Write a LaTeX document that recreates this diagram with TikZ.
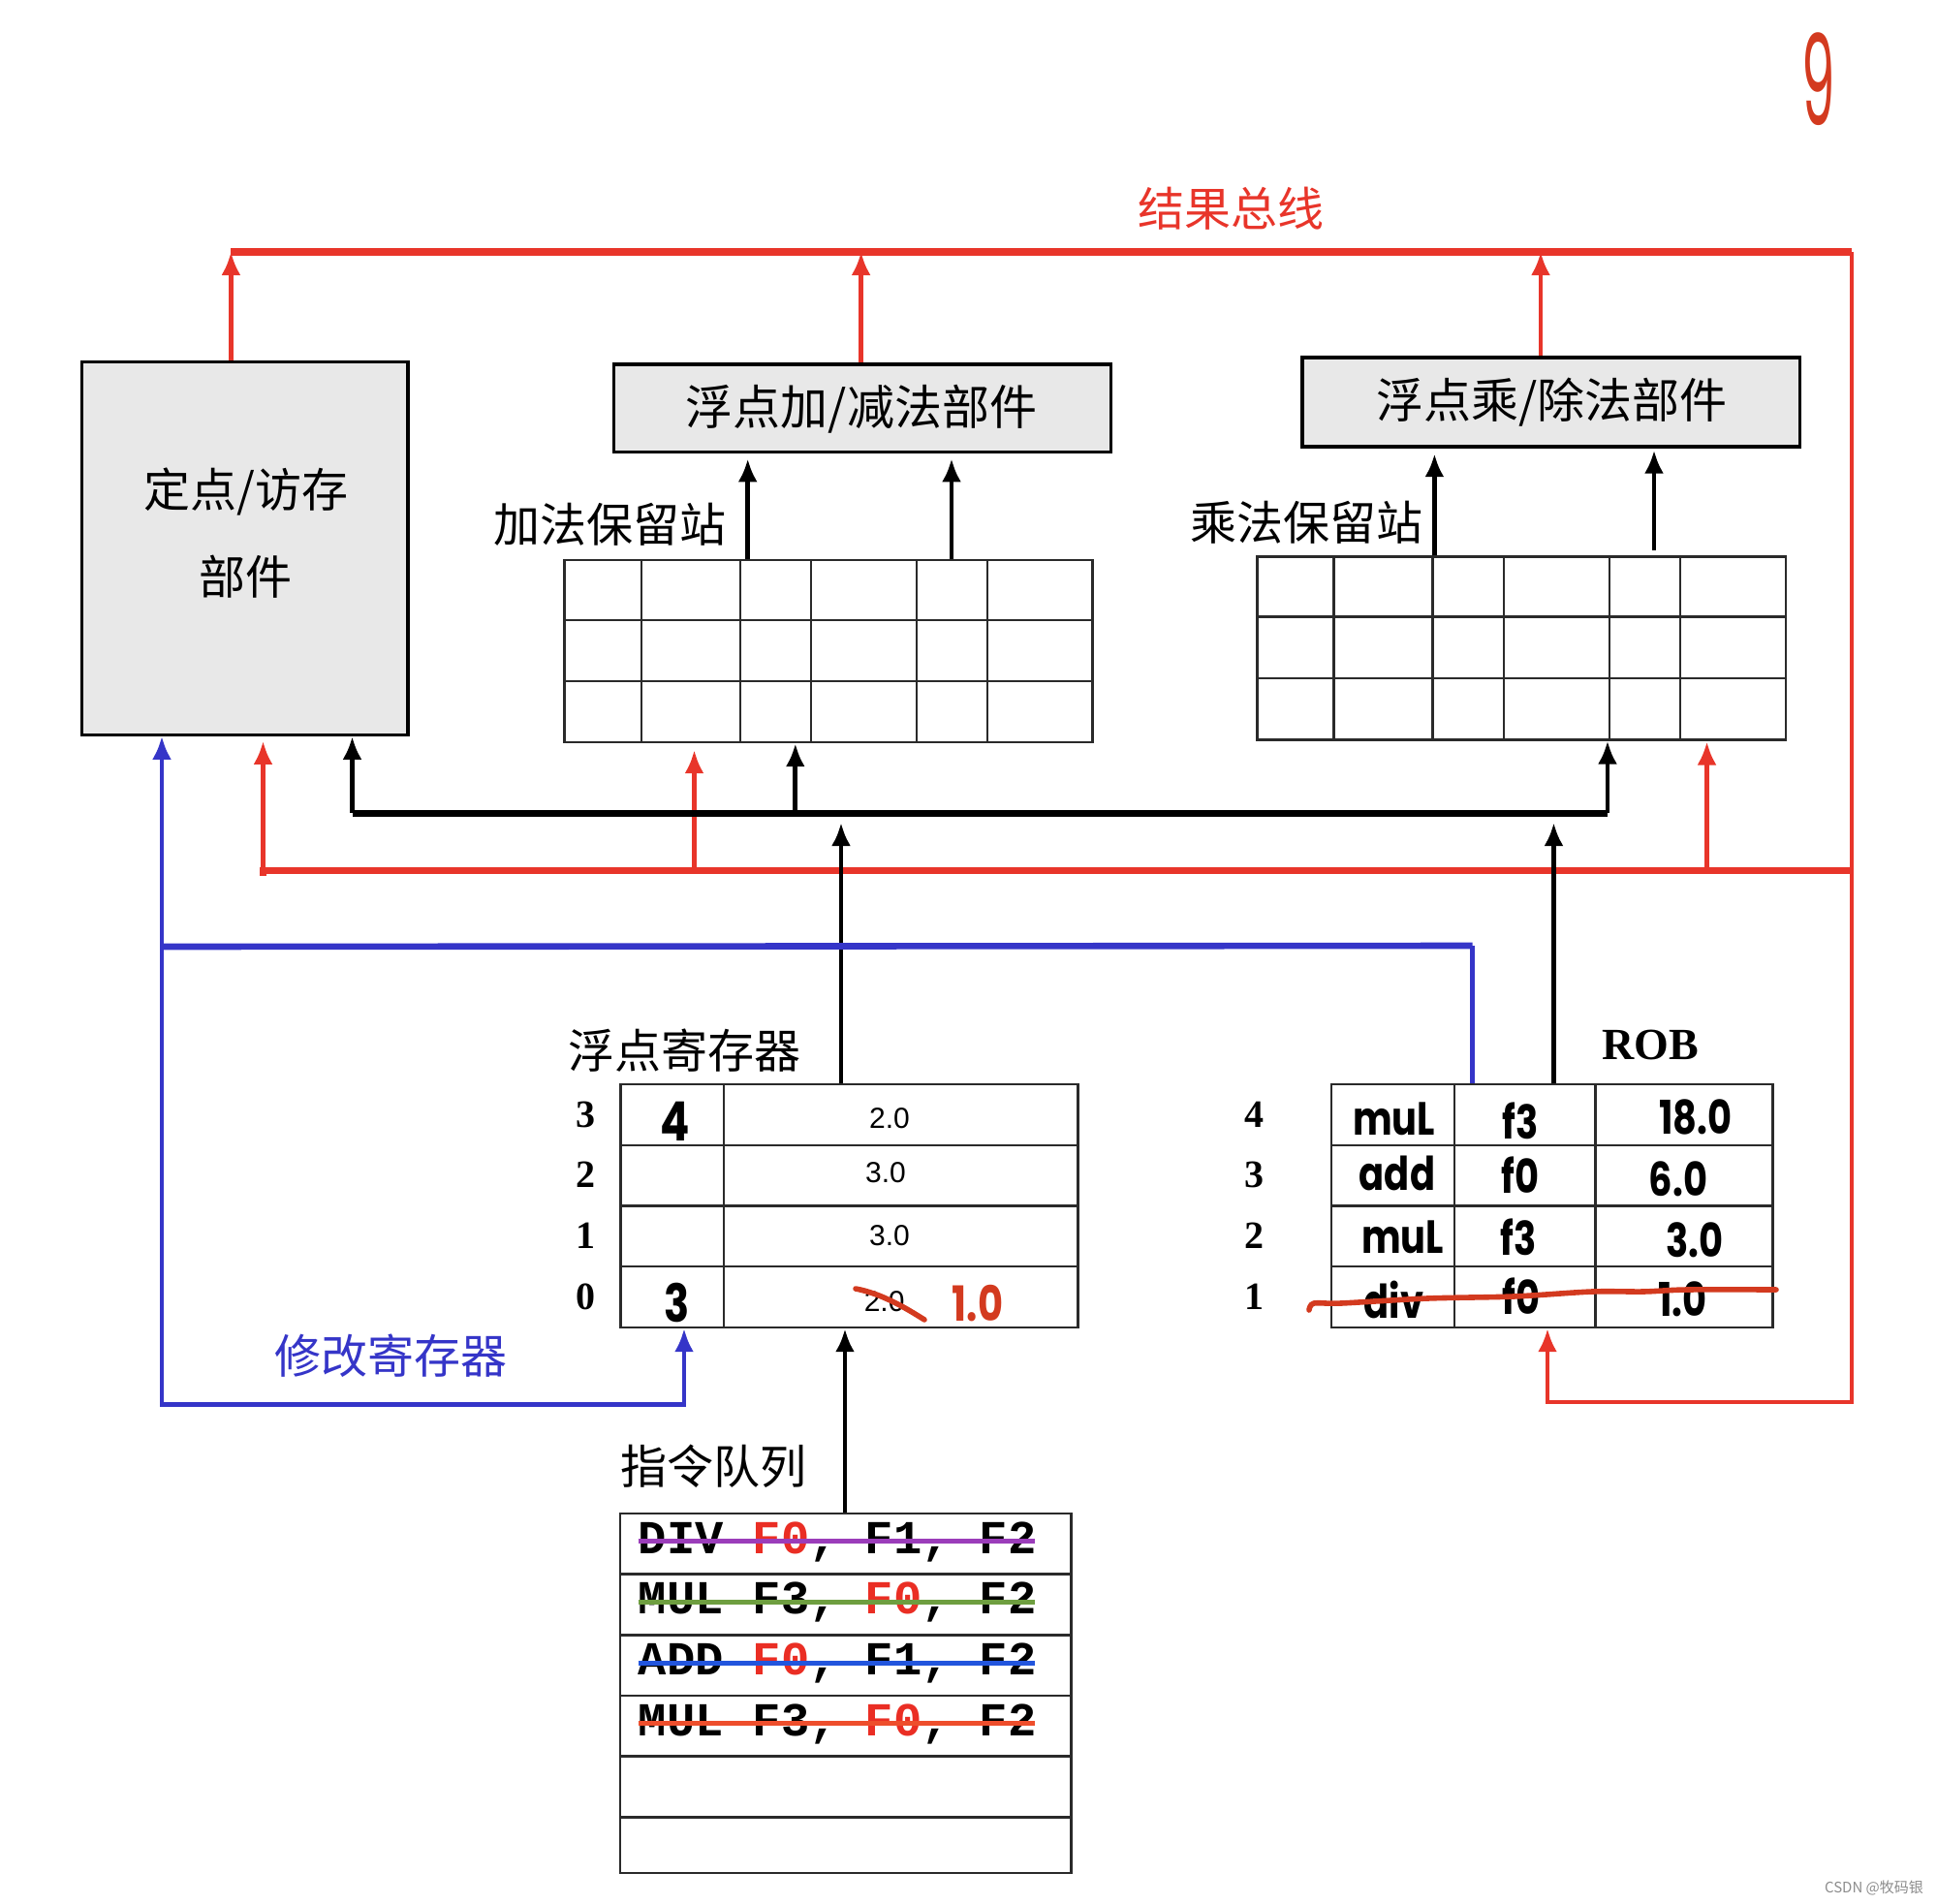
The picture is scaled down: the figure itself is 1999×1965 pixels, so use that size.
\documentclass[tikz,border=0pt]{standalone}
\usepackage{fontspec}
\usepackage{graphicx}
\setmainfont{Liberation Serif}
\newfontfamily\cjkf{Noto Sans CJK SC}
\newfontfamily\handf{Poppins}
\newfontfamily\monof{Liberation Mono}
\newfontfamily\helvf{Liberation Sans}
\usetikzlibrary{arrows.meta}
\newcommand\hwbox[1]{\scalebox{0.8}[1]{#1}}
\definecolor{busred}{HTML}{E8352A}
\definecolor{insred}{HTML}{EA2E24}
\definecolor{hred}{HTML}{D33A1F}
\definecolor{bblue}{HTML}{3535C8}
\definecolor{boxgray}{HTML}{E8E8E8}
\definecolor{tline}{HTML}{2A2A2A}
\definecolor{spurple}{HTML}{9B3DBA}
\definecolor{sgreen}{HTML}{6E9E40}
\definecolor{sblue}{HTML}{2255DD}
\definecolor{sred}{HTML}{EE4E2C}
\tikzset{
 unitbox/.style={draw=black, line width=1.6pt, fill=boxgray, inner sep=0pt},
 tbl/.style={draw=tline, line width=1.2pt, inner sep=0pt},
 gridline/.style={draw=tline, line width=1.2pt},
 cn/.style={font=\cjkf\fontsize{24}{28}\selectfont, inner sep=0pt},
 cnbig/.style={font=\cjkf\fontsize{24.5}{28}\selectfont, inner sep=0pt},
 idx/.style={font=\bfseries\fontsize{20}{24}\selectfont, inner sep=0pt},
 val/.style={font=\helvf\fontsize{15}{18}\selectfont, inner sep=0pt},
 hw/.style={font=\handf\bfseries\fontsize{24}{28}\selectfont, inner sep=0pt},
 ins/.style={font=\monof\bfseries\fontsize{24.4}{28}\selectfont, inner sep=0pt, anchor=base west},
 blk/.style={-{Latex[length=12pt,width=10pt]}, line width=2.4pt, draw=black},
 rarr/.style={-{Latex[length=12pt,width=10pt]}, line width=2.2pt, draw=busred},
 barr/.style={-{Latex[length=12pt,width=10pt]}, line width=2.2pt, draw=bblue},
 strk/.style={line width=2.4pt},
 hstroke/.style={draw=hred, line width=2.8pt, line cap=round, line join=round},
}
\begin{document}
\begin{tikzpicture}[x=0.5pt,y=-0.5pt]
\useasboundingbox (0,0) rectangle (1999,1965);

% ---------- units ----------
\node[unitbox, minimum width=168.1pt, minimum height=192.3pt] (fxu) at (252.9,566) {};
\node[unitbox, minimum width=256.6pt, minimum height=45.35pt] (fadd) at (889.9,421.35) {};
\node[unitbox, minimum width=256.75pt, minimum height=46pt] (fmul) at (1600.75,415) {};
\node[cn] (fxut1) at (254,507) {定点/访存};
\node[cn] (fxut2) at (253,595) {部件};
\node[cnbig] (faddt) at (889,421.8) {浮点加/减法部件};
\node[cnbig] (fmult) at (1601.5,415) {浮点乘/除法部件};

% ---------- reservation stations ----------
\node[tbl, minimum width=272.55pt, minimum height=94.15pt] (addrs) at (854.85,671.85) {};
\foreach \yy in {640,702.8} \draw[gridline] (582.3,\yy) -- (1127.4,\yy);
\foreach \xx in {662,764,836.7,945.8,1019} \draw[gridline] (\xx,577.7) -- (\xx,766);
\node[tbl, minimum width=272.7pt, minimum height=94.35pt] (mulrs) at (1570.2,668.95) {};
\foreach \yy in {636.6,699.8} \draw[gridline] (1297.5,\yy) -- (1842.9,\yy);
\foreach \xx in {1376.5,1478.5,1551.7,1660.7,1733.9} \draw[gridline] (\xx,574.6) -- (\xx,763.3);
\node[cn] (addrsl) at (629,541) {加法保留站};
\node[cn] (mulrsl) at (1348,539.5) {乘法保留站};

% ---------- register file ----------
\node[tbl, minimum width=236.15pt, minimum height=125.5pt] (reg) at (876.45,1244.5) {};
\foreach \yy in {1181.75,1244.5,1307.25} \draw[gridline] (640.3,\yy) -- (1112.6,\yy);
\draw[gridline] (747,1119) -- (747,1370);
\node[cn] (regl) at (706,1084) {浮点寄存器};
\node[idx] (ri3) at (604.7,1150) {3};
\node[idx] (ri2) at (604.7,1212.5) {2};
\node[idx] (ri1) at (604.7,1275.7) {1};
\node[idx] (ri0) at (604.7,1338.6) {0};
\node[val] (rv3) at (918,1154.5) {2.0};
\node[val] (rv2) at (914,1210.5) {3.0};
\node[val] (rv1) at (918,1275.3) {3.0};
\node[val] (rv0) at (912.6,1343) {2.0};
\node[hw, font=\handf\bfseries\fontsize{28}{30}\selectfont] (rt3) at (697,1157.5) {\hwbox{4}};
\node[hw, font=\handf\bfseries\fontsize{27}{30}\selectfont] (rt0) at (698.3,1344) {\hwbox{3}};
\node[hw, font=\handf\bfseries\fontsize{25}{30}\selectfont, text=hred] (rnew) at (1009,1345) {\hwbox{1.0}};
\draw[hstroke] (883,1330) .. controls (910,1335) and (935,1350) .. (954,1362);

% ---------- ROB ----------
\node[tbl, minimum width=227.75pt, minimum height=125.5pt] (rob) at (1601.75,1244.5) {};
\foreach \yy in {1181.75,1244.5,1307.25} \draw[gridline] (1374,\yy) -- (1829.5,\yy);
\foreach \xx in {1500.9,1646.4} \draw[gridline] (\xx,1119) -- (\xx,1370);
\node[font=\bfseries\fontsize{23}{26}\selectfont, inner sep=0pt] (robl) at (1703,1078) {ROB};
\node[idx] (oi4) at (1294.6,1150) {4};
\node[idx] (oi3) at (1294.6,1212.5) {3};
\node[idx] (oi2) at (1294.6,1275.7) {2};
\node[idx] (oi1) at (1294.6,1338.6) {1};
\node[hw] (rob41) at (1438.6,1155) {\hwbox{muL}};
\node[hw] (rob42) at (1569,1157) {\hwbox{f3}};
\node[hw] (rob43) at (1750,1153) {\hwbox{18.0}};
\node[hw] (rob31) at (1442,1211) {\hwbox{add}};
\node[hw] (rob32) at (1569,1212.5) {\hwbox{f0}};
\node[hw] (rob33) at (1732,1216.7) {\hwbox{6.0}};
\node[hw] (rob21) at (1447.5,1276.7) {\hwbox{muL}};
\node[hw] (rob22) at (1567,1276.7) {\hwbox{f3}};
\node[hw] (rob23) at (1749,1280) {\hwbox{3.0}};
\node[hw] (rob11) at (1438.5,1341) {\hwbox{div}};
\node[hw] (rob12) at (1570,1338) {\hwbox{f0}};
\node[hw] (rob13) at (1736.5,1341) {\hwbox{1.0}};
\draw[hstroke] plot[smooth] coordinates {(1351,1352) (1356,1345) (1384,1345) (1473,1340) (1562,1338) (1643,1333) (1696,1333) (1741,1331) (1833,1331)};

% ---------- instruction queue ----------
\node[tbl, minimum width=232.85pt, minimum height=185.4pt] (iq) at (872.65,1747.3) {};
\foreach \yy in {1624.3,1687.3,1750,1812.3,1875.3} \draw[gridline] (639.8,\yy) -- (1105.5,\yy);
\node[cn] (iql) at (736,1513) {指令队列};
\node[ins] (i1a) at (658.5,1603.4) {DIV};
\node[ins] (i1b) at (776.5,1603.4) {\color{insred}F0\color{black},};
\node[ins] (i1c) at (892.5,1603.4) {F1,};
\node[ins] (i1d) at (1010.5,1603.4) {F2};
\node[ins] (i2a) at (658.5,1665.7) {MUL};
\node[ins] (i2b) at (776.5,1665.7) {F3,};
\node[ins] (i2c) at (892.5,1665.7) {\color{insred}F0\color{black},};
\node[ins] (i2d) at (1010.5,1665.7) {F2};
\node[ins] (i3a) at (658.5,1728.8) {ADD};
\node[ins] (i3b) at (776.5,1728.8) {\color{insred}F0\color{black},};
\node[ins] (i3c) at (892.5,1728.8) {F1,};
\node[ins] (i3d) at (1010.5,1728.8) {F2};
\node[ins] (i4a) at (658.5,1791.8) {MUL};
\node[ins] (i4b) at (776.5,1791.8) {F3,};
\node[ins] (i4c) at (892.5,1791.8) {\color{insred}F0\color{black},};
\node[ins] (i4d) at (1010.5,1791.8) {F2};
\draw[strk, spurple] (i1a.west |- 0,1590.4) -- (1067.6,1590.4);
\draw[strk, sgreen] (i2a.west |- 0,1653.1) -- (1067.6,1653.1);
\draw[strk, sblue] (i3a.west |- 0,1716.2) -- (1067.6,1716.2);
\draw[strk, sred] (i4a.west |- 0,1778.5) -- (1067.6,1778.5);

% ---------- result bus (red) ----------
\coordinate (rbL) at (238.4,260);
\coordinate (rbR) at (1911,260);
\coordinate (rcorner) at (1911,1447);
\coordinate (lbL) at (271.5,898.3);
\coordinate (lbR) at (1911,898.3);
\node[cn, text=busred] (busl) at (1270,215.5) {结果总线};
\draw[busred, line width=3.8pt] (rbL) -- (rbR);
\draw[rarr] (fxu.north -| rbL) -- (rbL);
\draw[rarr] (888.6,0 |- fadd.north) -- (888.6,0 |- rbL);
\draw[rarr] (1590,0 |- fmul.north) -- (1590,0 |- rbL);
\draw[rarr] (rbR) -- (rcorner) -| (1597,0 |- rob.south);
\draw[busred, line width=3.8pt] (271.5,904) -- (lbL) -- (lbR);
\draw[rarr, shorten >=2.5pt] (lbL) -- (lbL |- fxu.south);
\draw[rarr, shorten >=3.5pt] (716.5,0 |- lbL) -- (716.5,0 |- addrs.south);
\draw[rarr, shorten >=0.5pt] (1761.5,0 |- lbL) -- (1761.5,0 |- mulrs.south);

% ---------- operand bus (black) ----------
\coordinate (bbL) at (363.5,839);
\coordinate (bbR) at (1659,839);
\draw[black, line width=3.5pt] (bbL) -- (bbR);
\draw[blk] (bbL) -- (bbL |- fxu.south);
\draw[blk] (820.8,0 |- bbL) -- (820.8,0 |- addrs.south);
\draw[blk] (bbR) -- (bbR |- mulrs.south);
\draw[blk, shorten >=5pt] (868,0 |- reg.north) -- (868,0 |- bbL);
\draw[blk, shorten >=5pt] (1603.5,0 |- rob.north) -- (1603.5,0 |- bbL);
\draw[blk, shorten >=2.5pt] (771.7,0 |- addrs.north) -- (771.7,0 |- fadd.south);
\draw[blk, shorten >=2.5pt] (982,0 |- addrs.north) -- (982,0 |- fadd.south);
\draw[blk, shorten >=2.8pt] (1480.4,0 |- mulrs.north) -- (1480.4,0 |- fmul.south);
\draw[blk, shorten <=2.8pt, shorten >=1pt] (1707,0 |- mulrs.north) -- (1707,0 |- fmul.south);
\draw[blk] (872,0 |- iq.north) -- (872,0 |- reg.south);

% ---------- blue (modify register) ----------
\coordinate (bluL) at (167,977);
\coordinate (bluR) at (1519.6,976);
\coordinate (bluB) at (167,1449.6);
\draw[bblue, line width=3.3pt] (bluL) -- (bluR);
\draw[bblue, line width=2.2pt] (bluR) -- (bluR |- rob.north);
\draw[barr] (bluL) -- (bluL |- fxu.south);
\draw[barr] (bluL) -- (bluB) -| (706,0 |- reg.south);
\node[cn, text=bblue] (modl) at (403,1399) {修改寄存器};

% ---------- page mark & watermark ----------
\node[text=hred, inner sep=0pt, font=\handf\fontsize{65}{65}\selectfont] (pg) at (1877,82) {\scalebox{0.42}[1]{9}};
\node[text=black!45, inner sep=0pt, font=\cjkf\fontsize{7.5}{9}\selectfont] (wm) at (1934,1948) {CSDN @牧码银};
\end{tikzpicture}
\end{document}
